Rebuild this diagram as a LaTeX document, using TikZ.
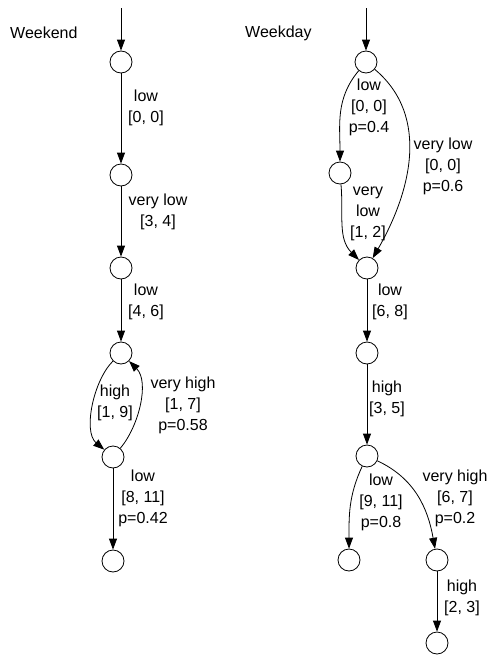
\documentclass[tikz,border=0pt]{standalone}
\usepackage{fontspec}
\setmainfont{Liberation Sans}
\usetikzlibrary{arrows.meta}
\tikzset{
  loc/.style={draw,circle,minimum size=22pt,inner sep=0pt,line width=0.8pt},
  trans/.style={-{Triangle[length=11pt,width=8pt]},line width=0.8pt},
  lbl/.style={align=center,inner sep=0pt,font=\fontsize{16}{21}\selectfont},
}
\begin{document}
\begin{tikzpicture}[x=1pt,y=1pt]
\useasboundingbox (0,0) rectangle (489,-656);
% weekend
\node[lbl,anchor=west] (wend) at (10,-33) {Weekend};
\coordinate (wstart) at (121,-8);
\node[loc] (w1) at (121,-62) {};
\node[loc] (w2) at (121,-175) {};
\node[loc] (w3) at (121,-268) {};
\node[loc] (w4) at (121,-353) {};
\node[loc] (w5) at (113,-457) {};
\node[loc] (w6) at (113,-561) {};
\draw[trans] (wstart) -- (w1);
\draw[trans] (w1) -- (w2);
\draw[trans] (w2) -- (w3);
\draw[trans] (w3) -- (w4);
\draw[trans] (w4) to[out=225,in=140,looseness=0.8] (w5);
\draw[trans] (w5) to[out=50,in=-45,looseness=0.85] (w4);
\draw[trans] (w5) -- (w6);
\node[lbl] (wl1) at (146,-108) {low\\{}[0, 0]};
\node[lbl] (wl2) at (158,-212) {very low\\{}[3, 4]};
\node[lbl] (wl3) at (146,-302) {low\\{}[4, 6]};
\node[lbl] (wl4) at (115,-403) {high\\{}[1, 9]};
\node[lbl] (wl5) at (183,-405) {very high\\{}[1, 7]\\p=0.58};
\node[lbl] (wl6) at (143,-498) {low\\{}[8, 11]\\p=0.42};
% weekday
\node[lbl,anchor=west] (wday) at (245,-33) {Weekday};
\coordinate (rstart) at (366,-8);
\node[loc] (r1) at (366,-62) {};
\node[loc] (r2) at (340,-173) {};
\node[loc] (r3) at (367,-268) {};
\node[loc] (r4) at (367,-353) {};
\node[loc] (r5) at (367,-456) {};
\node[loc] (r6) at (349,-560) {};
\node[loc] (r7) at (437,-560) {};
\node[loc] (r8) at (437,-643) {};
\draw[trans] (rstart) -- (r1);
\draw[trans] (r1) to[out=-130,in=90] (r2);
\draw[trans] (r1) to[out=-40,in=60] (r3);
\draw[trans] (r2) to[out=-85,in=135] (r3);
\draw[trans] (r3) -- (r4);
\draw[trans] (r4) -- (r5);
\draw[trans] (r5) to[out=-115,in=90] (r6);
\draw[trans] (r5) to[out=-25,in=100] (r7);
\draw[trans] (r7) -- (r8);
\node[lbl] (rl1) at (369,-107) {low\\{}[0, 0]\\p=0.4};
\node[lbl] (rl2) at (443,-166) {very low\\{}[0, 0]\\p=0.6};
\node[lbl] (rl3) at (368,-214) {very\\low\\{}[1, 2]};
\node[lbl] (rl4) at (390,-302) {low\\{}[6, 8]};
\node[lbl] (rl5) at (387,-399) {high\\{}[3, 5]};
\node[lbl] (rl6) at (381,-502) {low\\{}[9, 11]\\p=0.8};
\node[lbl] (rl7) at (455,-498) {very high\\{}[6, 7]\\p=0.2};
\node[lbl] (rl8) at (462,-598) {high\\{}[2, 3]};
\end{tikzpicture}
\end{document}
